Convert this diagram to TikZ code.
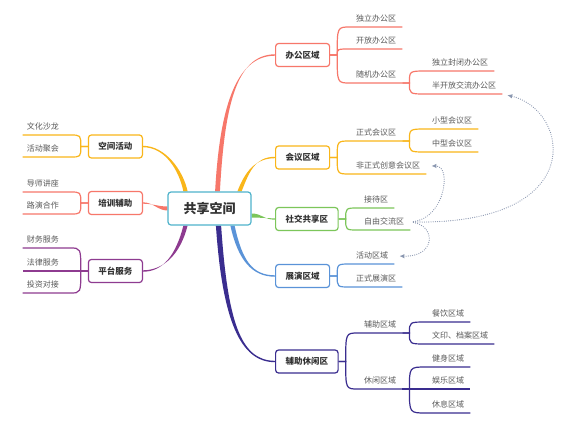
\documentclass[tikz,border=0pt]{standalone}
\usepackage{fontspec}
\setmainfont{Noto Sans CJK SC}
\usetikzlibrary{arrows.meta,calc,backgrounds}
\definecolor{Hub}{HTML}{4FB3CB}
\definecolor{Coral}{HTML}{F7776A}
\definecolor{Gold}{HTML}{F9B61A}
\definecolor{Grass}{HTML}{7CC65A}
\definecolor{Sky}{HTML}{5A93D8}
\definecolor{Indigo}{HTML}{3A2D8F}
\definecolor{Plum}{HTML}{8E3B90}
\definecolor{Link}{HTML}{8A97B0}
\definecolor{Ink}{HTML}{333333}
\definecolor{Soft}{HTML}{5A5A5A}
\tikzset{
  hub/.style={draw=Hub,fill=white,line width=1.2pt,rounded corners=3pt,minimum width=83pt,minimum height=33pt,font=\fontsize{13}{15}\selectfont\bfseries,text=Ink},
  branch/.style={draw=#1,fill=white,line width=1.2pt,rounded corners=3pt,minimum height=23pt,inner xsep=10pt,font=\fontsize{8.5}{10}\selectfont\bfseries,text=Ink},
  leaf/.style={inner xsep=6pt,inner ysep=4pt,text height=6pt,text depth=1.7pt,font=\fontsize{8}{9}\selectfont,text=Soft,anchor=south west},
  leafl/.style={leaf,anchor=south east,inner xsep=4pt,text width=39pt,align=left},
  twig/.style={draw=#1,line width=1.2pt},
  link/.style={draw=Link,line width=1.2pt,dash pattern=on 0pt off 2.2pt,line cap=round,-{Latex[length=5pt,width=4.5pt]},shorten <=3pt,shorten >=5pt}
}
% tapered main branch: colour, start, half width at start, control 1, control 2, end
\newcommand\limb[6]{\fill[#1] ($#2+#3$) .. controls ($#4+#3$) and ($#5+(0,-.7)$) .. ($#6+(0,-.7)$) -- ($#6+(0,.7)$) .. controls ($#5+(0,.7)$) and ($#4-#3$) .. ($#2-#3$) -- cycle;}

\begin{document}
\begin{tikzpicture}[x=1pt,y=-1pt]
  \path[use as bounding box] (0,0) rectangle (575,421);
  \node[hub] (hub) at (209.5,208.5) {共享空间};

  % right side
  \node[branch=Coral,anchor=west] (office) at (275,55) {办公区域};
  \node[branch=Gold,anchor=west] (meet) at (275,157.5) {会议区域};
  \node[branch=Grass,anchor=west] (social) at (275,219) {社交共享区};
  \node[branch=Sky,anchor=west] (show) at (275,276) {展演区域};
  \node[branch=Indigo,anchor=west] (rest) at (275,361.5) {辅助休闲区};
  % left side
  \node[branch=Gold,anchor=east] (act) at (143,146.5) {空间活动};
  \node[branch=Coral,anchor=east] (train) at (143,203) {培训辅助};
  \node[branch=Plum,anchor=east] (plat) at (143,271) {平台服务};

  \node[leaf] (o1) at (350,27) {独立办公区};
  \node[leaf] (o2) at (350,49) {开放办公区};
  \node[leaf] (o3) at (350,83) {随机办公区};
  \node[leaf] (o31) at (426,71) {独立封闭办公区};
  \node[leaf] (o32) at (426,94) {半开放交流办公区};
  \node[leaf] (m1) at (350,141) {正式会议区};
  \node[leaf] (m11) at (426,129) {小型会议区};
  \node[leaf] (m12) at (426,152) {中型会议区};
  \node[leaf] (m2) at (350,174) {非正式创意会议区};
  \node[leaf] (s1) at (358,208) {接待区};
  \node[leaf] (s2) at (358,230) {自由交流区};
  \node[leaf] (e1) at (350,264) {活动区域};
  \node[leaf] (e2) at (350,287) {正式展演区};
  \node[leaf] (r1) at (358,333) {辅助区域};
  \node[leaf] (r11) at (426,322) {餐饮区域};
  \node[leaf] (r12) at (426,344) {文印、档案区域};
  \node[leaf] (r2) at (358,389) {休闲区域};
  \node[leaf] (r21) at (426,367) {健身区域};
  \node[leaf] (r22) at (426,389) {娱乐区域};
  \node[leaf] (r23) at (426,413) {休息区域};

  \node[leafl] (a1) at (70,135) {文化沙龙};
  \node[leafl] (a2) at (70,157) {活动聚会};
  \node[leafl] (t1) at (70,192) {导师讲座};
  \node[leafl] (t2) at (70,214) {路演合作};
  \node[leafl] (p1) at (70,248) {财务服务};
  \node[leafl] (p2) at (70,271) {法律服务};
  \node[leafl] (p3) at (70,293) {投资对接};

  \begin{scope}[on background layer]
    \fill[white] (0,0) rectangle (575,421);
    \coordinate (h1) at ($(hub.north)+(8,0)$);
    \coordinate (h2) at ($(hub.north)+(30,0)$);
    \coordinate (h3) at ($(hub.east)+(0,7)$);
    \coordinate (h4) at ($(hub.south)+(23,0)$);
    \coordinate (h5) at ($(hub.south)+(9,0)$);
    \coordinate (h6) at ($(hub.north)+(-24,0)$);
    \coordinate (h7) at (hub.west);
    \coordinate (h8) at ($(hub.south)+(-24,0)$);
    \limb{Coral}{(h1)}{(2.4,0)}{(222,110)}{(235,55)}{(office.west)}
    \limb{Gold}{(h2)}{(2.1,0)}{(247,172)}{(255,157.5)}{(meet.west)}
    \limb{Grass}{(h3)}{(0,2)}{(262,215.5)}{(264,219)}{(social.west)}
    \limb{Sky}{(h4)}{(2.1,0)}{(240,260)}{(252,276)}{(show.west)}
    \limb{Indigo}{(h5)}{(2.6,0)}{(225,320)}{(240,361.5)}{(rest.west)}
    \limb{Gold}{(h6)}{(2.1,0)}{(181,170)}{(165,146.5)}{(act.east)}
    \limb{Coral}{(h7)}{(0,2)}{(158,208.5)}{(153,203)}{(train.east)}
    \limb{Plum}{(h8)}{(2.1,0)}{(178,255)}{(163,271)}{(plat.east)}
  \end{scope}

  % right twigs
  \foreach \c in {o1,o2,o3}
    \draw[twig=Coral] (office.east) -- ++(7,0) coordinate (k) .. controls (k |- \c.south west) .. (\c.south west) -- (\c.south east);
  \foreach \c in {o31,o32}
    \draw[twig=Coral] (o3.south east) -- ++(7,0) coordinate (k) .. controls (k |- \c.south west) .. (\c.south west) -- (\c.south east);
  \foreach \c in {m1,m2}
    \draw[twig=Gold] (meet.east) -- ++(7,0) coordinate (k) .. controls (k |- \c.south west) .. (\c.south west) -- (\c.south east);
  \foreach \c in {m11,m12}
    \draw[twig=Gold] (m1.south east) -- ++(7,0) coordinate (k) .. controls (k |- \c.south west) .. (\c.south west) -- (\c.south east);
  \foreach \c in {s1,s2}
    \draw[twig=Grass] (social.east) -- ++(7,0) coordinate (k) .. controls (k |- \c.south west) .. (\c.south west) -- (\c.south east);
  \foreach \c in {e1,e2}
    \draw[twig=Sky] (show.east) -- ++(7,0) coordinate (k) .. controls (k |- \c.south west) .. (\c.south west) -- (\c.south east);
  \foreach \c in {r1,r2}
    \draw[twig=Indigo] (rest.east) -- ++(7,0) coordinate (k) .. controls (k |- \c.south west) .. (\c.south west) -- (\c.south east);
  \foreach \c in {r11,r12}
    \draw[twig=Indigo] (r1.south east) -- ++(7,0) coordinate (k) .. controls (k |- \c.south west) .. (\c.south west) -- (\c.south east);
  \foreach \c in {r21,r22,r23}
    \draw[twig=Indigo] (r2.south east) -- ++(7,0) coordinate (k) .. controls (k |- \c.south west) .. (\c.south west) -- (\c.south east);
  % left twigs
  \foreach \c in {a1,a2}
    \draw[twig=Gold] (act.west) -- ++(-7,0) coordinate (k) .. controls (k |- \c.south east) .. (\c.south east) -- (\c.south west);
  \foreach \c in {t1,t2}
    \draw[twig=Coral] (train.west) -- ++(-7,0) coordinate (k) .. controls (k |- \c.south east) .. (\c.south east) -- (\c.south west);
  \foreach \c in {p1,p2,p3}
    \draw[twig=Plum] (plat.west) -- ++(-7,0) coordinate (k) .. controls (k |- \c.south east) .. (\c.south east) -- (\c.south west);

  % cross links
  \draw[link] (s2.east) .. controls (590,225) and (570,110) .. (o32.south east);
  \draw[link] (s2.east) .. controls (445,218) and (452,166) .. (m2.east);
  \draw[link] (s2.east) .. controls (436,226) and (436,257) .. (e1.east);
\end{tikzpicture}
\end{document}
